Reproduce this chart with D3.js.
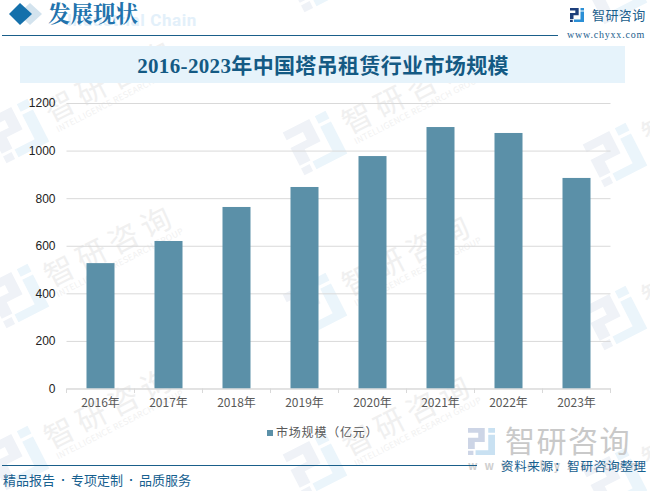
<!DOCTYPE html>
<html>
<head>
<meta charset="utf-8">
<script src="https://cdn.jsdelivr.net/npm/d3@7"></script>
<style>
body { margin: 0; background: #fff; overflow: hidden; }
svg { display: block; }
text { font-family: "Noto Sans CJK SC", "DejaVu Sans", sans-serif; }
</style>
</head>
<body>
<div id="chart"></div>
<script>
const years = ['2016年','2017年','2018年','2019年','2020年','2021年','2022年','2023年'];
const marketSize = [527, 620, 763, 847, 977, 1099, 1074, 885];
const yTicks = [0, 200, 400, 600, 800, 1000, 1200];
const seriesName = '市场规模（亿元）';
// watermark logo centres, picture coordinates
const markSpots = [[17,131],[315,143],[615,155],[17,296],[315,305],[615,318],[17,458],[315,465],[615,480]];
const logoSpots = [[315,-20],[615,-8]];

const svg = d3.select('#chart').append('svg').attr('width', 650).attr('height', 491);

const x = d3.scaleBand().domain(years).range([66.5, 610.5]);
const y = d3.scaleLinear().domain([0, 1200]).range([388.5, 103]);

// company logo, two interlocked shapes in a box of side s
function logo(g, s, c1, c2) {
  const p = (...a) => a.map((v, i) => (typeof v === 'number' ? v * s : v)).join(' ');
  g.append('path').attr('fill', c1)
    .attr('d', p('M',0,0,'H',.62,'V',.52,'H',.25,'V',.78,'H',0,'V',.36,'H',.38,'V',.18,'H',0,'Z') + p('M',0,.84,'H',.2,'V',1,'H',0,'Z'));
  g.append('path').attr('fill', c2)
    .attr('d', p('M',.75,0,'H',1,'V',.18,'H',.75,'Z') + p('M',.75,.25,'H',1,'V',1,'H',.28,'V',.82,'H',.75,'Z'));
}

function markLogo(p) {
  const g = wm.append('g').attr('transform', `translate(${p[0]},${p[1]}) rotate(-27)`);
  logo(g.append('g').attr('transform', 'translate(-24,-24)'), 48, '#eff2f7', '#ebf5fb');
  return g;
}

// watermarks
const wm = svg.append('g');
logoSpots.forEach(markLogo);
markSpots.forEach(p => {
  const g = markLogo(p);
  g.append('text').attr('x', 34).attr('y', 8).attr('font-size', 30).attr('letter-spacing', 6)
    .attr('fill', '#f0f0f0').text('智研咨询');
  g.append('text').attr('x', 36).attr('y', 20).attr('font-size', 8.5).attr('letter-spacing', .3)
    .attr('fill', '#f1f1f1').text('INTELLIGENCE RESEARCH GROUP');
});

// header
svg.append('path').attr('fill', '#d3e3ee').attr('d', d3.line()([[30,3],[42,14],[30,25],[18,14]]));
svg.append('path').attr('fill', '#1470ab').attr('d', d3.line()([[20,3],[32,14],[20,25],[9,14]]));
svg.append('text').attr('x', 197).attr('y', 26).attr('text-anchor', 'end').attr('font-size', 17).attr('font-weight', 700)
  .attr('fill', '#e3f0fa').style('font-family', 'Roboto, sans-serif').attr('letter-spacing', .6).text('Industrial Chain');
svg.append('text').attr('x', 48).attr('y', 22).attr('font-size', 22.5).attr('fill', '#2273ad')
  .style('font-family', '"Noto Serif CJK SC","Noto Sans CJK SC",sans-serif').attr('font-weight', 700).text('发展现状');
svg.append('line').attr('x1', 2).attr('x2', 558).attr('y1', 35.5).attr('y2', 35.5).attr('stroke', '#1a5f8a').attr('stroke-width', 1);

logo(svg.append('g').attr('transform', 'translate(570,8)'), 14, '#1d3f7c', '#2b8fd6');
svg.append('text').attr('x', 592).attr('y', 20).attr('font-size', 13).attr('letter-spacing', .4).attr('fill', '#1b5e8c').text('智研咨询');
svg.append('text').attr('x', 567).attr('y', 38).attr('font-size', 10).attr('letter-spacing', .8)
  .attr('fill', '#1b5e8c').style('font-family', '"Liberation Serif", serif').text('www.chyxx.com');

// title band
svg.append('rect').attr('x', 20).attr('y', 46).attr('width', 605).attr('height', 37).attr('fill', '#e6f3fb');
svg.append('text').attr('x', 323).attr('y', 73).attr('text-anchor', 'middle').attr('font-size', 21).attr('letter-spacing', .35).attr('font-weight', 700)
  .attr('fill', '#145a84').style('font-family', '"Liberation Serif","Noto Sans CJK SC",serif').text('2016-2023年中国塔吊租赁行业市场规模');

// y axis + gridlines
const yAxis = svg.append('g').attr('transform', 'translate(66.5,0)')
  .call(d3.axisLeft(y).tickValues(yTicks).tickFormat(d3.format('d')).tickSize(-544).tickPadding(11));
yAxis.select('.domain').remove();
yAxis.selectAll('line').attr('stroke', '#d9d9d9');
yAxis.selectAll('text').attr('font-size', 12).attr('fill', '#222').style('font-family', '"Liberation Sans", sans-serif');

// bars
svg.append('g').selectAll('rect').data(years).enter().append('rect')
  .attr('x', d => x(d) + x.bandwidth() / 2 - 14)
  .attr('width', 28)
  .attr('y', (d, i) => y(marketSize[i]))
  .attr('height', (d, i) => y(0) - y(marketSize[i]))
  .attr('fill', '#5b90a8');

// x axis
const xAxis = svg.append('g').attr('transform', 'translate(0,388.5)')
  .call(d3.axisBottom(x).tickSize(0).tickPadding(10));
xAxis.select('.domain').attr('stroke', '#d9d9d9');
xAxis.selectAll('text').attr('font-size', 12).attr('fill', '#595959');
svg.append('g').selectAll('line').data(years.concat('end')).enter().append('line')
  .attr('x1', (d, i) => 66.5 + i * x.bandwidth())
  .attr('x2', (d, i) => 66.5 + i * x.bandwidth())
  .attr('y1', 388.5).attr('y2', 393).attr('stroke', '#d9d9d9');

// legend
svg.append('rect').attr('x', 267).attr('y', 430).attr('width', 6).attr('height', 6).attr('fill', '#5b90a8');
svg.append('text').attr('x', 276).attr('y', 437).attr('font-size', 12).attr('letter-spacing', .8).attr('fill', '#595959').text(seriesName);

// big watermark bottom right
logo(svg.append('g').attr('transform', 'translate(468,428)'), 27, '#cdd5e6', '#c9e1f2');
svg.append('text').attr('x', 505).attr('y', 452).attr('font-size', 30).attr('letter-spacing', 1.5).attr('fill', '#c9c9c9').text('智研咨询');
svg.append('text').attr('x', 468).attr('y', 470).attr('font-size', 11).attr('letter-spacing', 7).attr('font-weight', 700).attr('fill', '#cfcfcf').text('www.chyxx.com');

// footer
svg.append('line').attr('x1', 2).attr('x2', 477).attr('y1', 465.5).attr('y2', 465.5).attr('stroke', '#1a5f8a');
const foot = svg.append('text').attr('x', 3).attr('y', 485).attr('font-size', 13).attr('fill', '#17608f');
['精品报告', '专项定制', '品质服务'].forEach((t, i) => {
  if (i) foot.append('tspan').style('font-family', '"Liberation Sans", sans-serif').attr('font-size', 18).text(' · ');
  foot.append('tspan').text(t);
});
svg.append('text').attr('x', 501).attr('y', 471).attr('font-size', 12.5).attr('letter-spacing', .75).attr('fill', '#17608f').text('资料来源：智研咨询整理');
</script>
</body>
</html>
